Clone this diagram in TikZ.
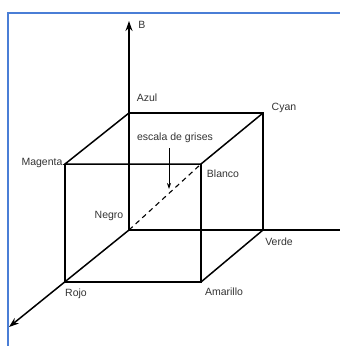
\documentclass[tikz,border=0pt]{standalone}
\usepackage{fontspec}
\setmainfont{Liberation Sans}
\usetikzlibrary{arrows.meta}
\definecolor{frameblue}{RGB}{74,126,214}
\begin{document}
\begin{tikzpicture}[x=1pt,y=-1pt,
  edge/.style={line width=1.5pt,black},
  lbl/.style={font=\fontsize{10.5}{12}\selectfont,text=black!80,inner sep=0pt},
  axisarrow/.style={edge,-{Stealth[length=10pt,width=7pt]}}]
\useasboundingbox (0,0) rectangle (340,346);
\fill[white] (0,0) rectangle (340,346);
\draw[frameblue,line width=1.8pt] (8,350) -- (8,13) -- (345,13);
% corners
\coordinate (negro) at (129,230);
\coordinate (azul) at (129,113);
\coordinate (cyan) at (263,113);
\coordinate (magenta) at (65,164);
\coordinate (blanco) at (201,164);
\coordinate (verde) at (263,230);
\coordinate (rojo) at (65,282);
\coordinate (amarillo) at (201,282);
\coordinate (btip) at (129,21);
\coordinate (rtip) at (9,327);
\coordinate (gend) at (341,230);
% axes
\draw[axisarrow] (negro) -- (btip);
\draw[axisarrow] (negro) -- (rtip);
\draw[edge] (negro) -- (gend);
% cube
\draw[edge] (azul) -- (cyan) -- (verde);
\draw[edge] (azul) -- (magenta) -- (blanco) -- (cyan);
\draw[edge] (magenta) -- (rojo) -- (amarillo) -- (blanco);
\draw[edge] (amarillo) -- (verde);
\draw[line width=1.1pt,dashed,dash pattern=on 5pt off 4pt] (negro) -- (blanco);
% grey-scale pointer
\node[lbl] (esc) at (175,138) {escala de grises};
\coordinate (escs) at (169,148);
\coordinate (esce) at (169,189);
\draw[line width=0.8pt,-{Stealth[length=6pt,width=4pt]}] (escs) -- (esce);
% labels
\node[lbl] (lB) at (142,25) {B};
\node[lbl] (lAzul) at (147,98) {Azul};
\node[lbl] (lCyan) at (284,108) {Cyan};
\node[lbl] (lMagenta) at (42,163) {Magenta};
\node[lbl] (lBlanco) at (223,174) {Blanco};
\node[lbl] (lNegro) at (109,216) {Negro};
\node[lbl] (lVerde) at (279,242) {Verde};
\node[lbl] (lRojo) at (76,294) {Rojo};
\node[lbl] (lAmarillo) at (224,292) {Amarillo};
\end{tikzpicture}
\end{document}
